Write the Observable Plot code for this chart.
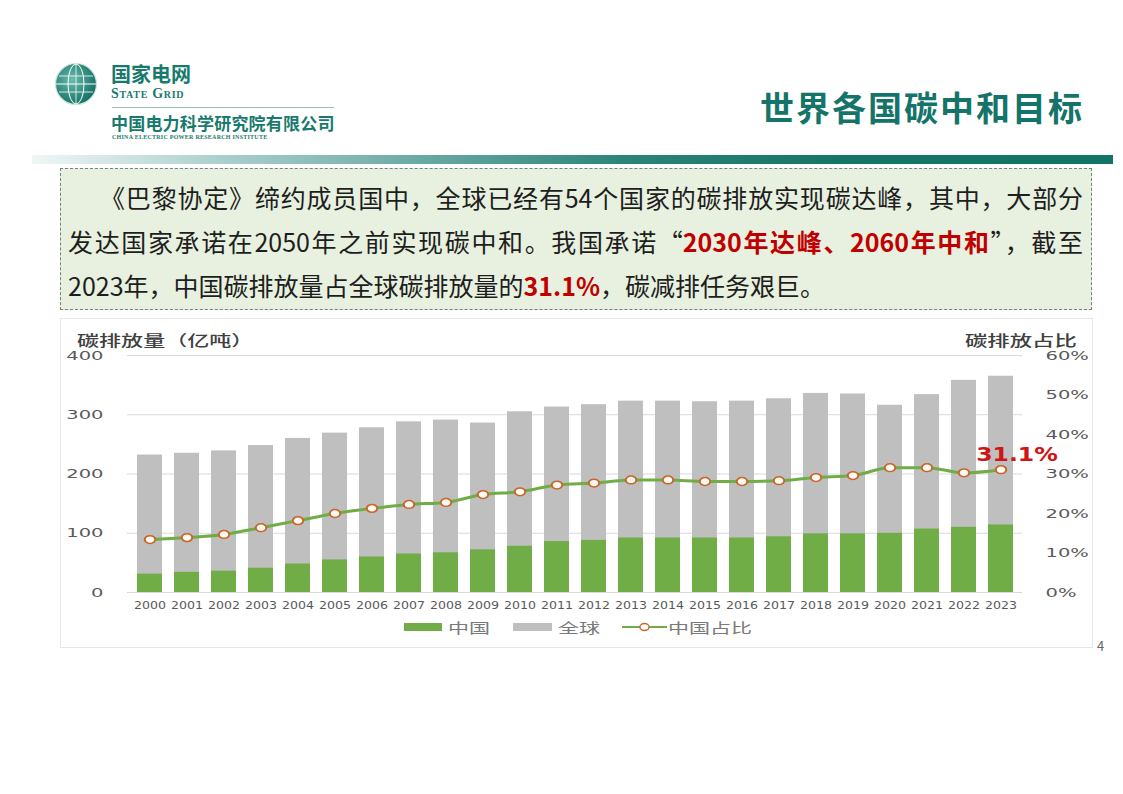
<!DOCTYPE html>
<html><head><meta charset="utf-8">
<script src="https://cdn.jsdelivr.net/npm/d3@7"></script>
<script src="https://cdn.jsdelivr.net/npm/@observablehq/plot@0.6"></script>
<style>
html,body{margin:0;padding:0;background:#fff;}
#page{position:relative;width:1123px;height:794px;overflow:hidden;font-family:"Noto Sans CJK SC","Noto Sans",sans-serif;}
.abs{position:absolute;white-space:nowrap;}
.sx{display:inline-block;transform-origin:0 50%;}
#band{position:absolute;left:32px;top:155px;width:1081px;height:9px;background:linear-gradient(to right,#f0f6f6 0%,#a9cfcb 18%,#6aa9a3 36%,#2a8479 55%,#157568 75%,#127367 100%);}
#textbox{position:absolute;left:60px;top:168px;width:1032px;height:142px;box-sizing:border-box;border:1.5px dashed #6e847c;background:#e8f1df;padding:6px 8px 0 7px;font-size:25px;color:#1e1e1e;}
#textbox .ln{height:44px;line-height:44px;white-space:nowrap;}
#textbox .j{text-align:justify;text-align-last:justify;}
#textbox .r{color:#c00000;font-weight:bold;}
#chartbox{position:absolute;left:60px;top:318px;width:1033px;height:330px;box-sizing:border-box;border:1px solid #e6e6e6;}
#plot{position:absolute;left:60px;top:318px;}
.axt{font-size:15px;line-height:15px;color:#404040;font-weight:500;}
.lgt{font-size:14px;line-height:14px;color:#7a7a7a;}
</style></head>
<body><div id="page">
  <svg class="abs" style="left:54px;top:62px" width="44" height="44" viewBox="0 0 44 44">
    <defs><radialGradient id="g1" cx="40%" cy="40%" r="65%"><stop offset="0%" stop-color="#6cbcae"/><stop offset="100%" stop-color="#0f6e62"/></radialGradient></defs>
    <circle cx="22" cy="22" r="20.5" fill="url(#g1)"/>
    <circle cx="22" cy="22" r="20.5" fill="none" stroke="#cfe3df" stroke-width="1.2"/>
    <ellipse cx="22" cy="22" rx="8" ry="20" fill="none" stroke="#fff" stroke-width="1"/>
    <line x1="2" y1="22" x2="42" y2="22" stroke="#fff" stroke-width="1"/>
    <line x1="5" y1="14" x2="39" y2="14" stroke="#fff" stroke-width="0.8"/>
    <line x1="5" y1="30" x2="39" y2="30" stroke="#fff" stroke-width="0.8"/>
    <line x1="22" y1="2" x2="22" y2="42" stroke="#fff" stroke-width="0.8"/>
  </svg>
  <div class="abs" style="left:111px;top:65px;font-size:20px;font-weight:bold;color:#177a6d;line-height:18px;">国家电网</div>
  <div class="abs" style="left:111px;top:88px;font-family:'Liberation Serif',serif;font-weight:bold;font-size:14px;line-height:11px;color:#177a6d;font-variant:small-caps;letter-spacing:0.7px;">State Grid</div>
  <div class="abs" style="left:112px;top:107px;width:222px;height:1px;background:#9fbdb6;"></div>
  <div class="abs" style="left:111px;top:114px;font-size:17px;font-weight:bold;color:#177a6d;line-height:17px;letter-spacing:0.2px;">中国电力科学研究院有限公司</div>
  <div class="abs" style="left:112px;top:134px;font-family:'Liberation Serif',serif;font-size:6px;line-height:6px;font-weight:bold;color:#177a6d;letter-spacing:0.25px;">CHINA ELECTRIC POWER RESEARCH INSTITUTE</div>
  <div class="abs" style="left:760px;top:87px;font-size:34px;font-weight:bold;color:#157469;line-height:40px;letter-spacing:2px;">世界各国碳中和目标</div>
  <div id="band"></div>
  <div id="textbox">
    <div class="ln j" style="padding-left:32px;">《巴黎协定》缔约成员国中，全球已经有54个国家的碳排放实现碳达峰，其中，大部分</div>
    <div class="ln j">发达国家承诺在2050年之前实现碳中和。我国承诺“<span class="r">2030年达峰、2060年中和</span>”，截至</div>
    <div class="ln">2023年，中国碳排放量占全球碳排放量的<span class="r">31.1%</span>，碳减排任务艰巨。</div>
  </div>
  <div id="chartbox"></div>
  <div id="plot"></div>
  <div class="abs axt" style="left:77px;top:332px;"><span class="sx" style="transform:scaleX(1.47)">碳排放量（亿吨）</span></div>
  <div class="abs axt" style="left:965px;top:332px;"><span class="sx" style="transform:scaleX(1.49)">碳排放占比</span></div>
  <div id="legend"></div>
  <div class="abs" style="left:1097px;top:636px;font-size:13px;color:#666;">4</div>
</div>
<script>
const years = ["2000","2001","2002","2003","2004","2005","2006","2007","2008","2009","2010","2011","2012","2013","2014","2015","2016","2017","2018","2019","2020","2021","2022","2023"];
const globalEmissions = [232,235,239,248,260,269,278,288,291,286,305,313,317,323,323,322,323,327,336,335,316,334,358,365];
const chinaEmissions = [31,34,36,41,48,55,60,65,67,72,78,86,88,92,92,92,92,94,99,99,100,107,110,114];
const chinaShare = [13.4,13.9,14.7,16.4,18.2,20.0,21.3,22.3,22.8,24.8,25.5,27.2,27.7,28.5,28.5,28.1,28.1,28.3,29.1,29.6,31.6,31.6,30.3,31.1];
const leftTicks = [0,100,200,300,400];
const rightTicks = [0,10,20,30,40,50,60];
const seriesNames = ["中国","全球","中国占比"];
const shareLabel = "31.1%";

const leftMax = 400, rightMax = 60;
const toLeft = p => p * leftMax / rightMax;
const rows = years.map((y,i)=>({year:y, global:globalEmissions[i], china:chinaEmissions[i], share:chinaShare[i], shareY:toLeft(chinaShare[i])}));
const green = "#70ad47", gray = "#bfbfbf", markerStroke = "#c8662a";

const chart = Plot.plot({
  width: 1033, height: 330,
  marginLeft: 67, marginRight: 71, marginTop: 37, marginBottom: 56,
  style: {fontFamily: "'DejaVu Sans', sans-serif", background: "transparent", overflow: "visible"},
  x: {type: "band", domain: years, paddingInner: 0.33, paddingOuter: 0.165},
  y: {domain: [0, leftMax]},
  marks: [
    Plot.gridY(leftTicks, {stroke: "#d9d9d9", strokeOpacity: 1, strokeWidth: 1.2}),
    Plot.barY(rows, {x: "year", y: "global", fill: gray}),
    Plot.barY(rows, {x: "year", y: "china", fill: green}),
    Plot.line(rows, {x: "year", y: "shareY", stroke: green, strokeWidth: 3, curve: "monotone-x"}),
    Plot.dot(rows, {x: "year", y: "shareY", r: 3.9, fill: "#fffaf3", stroke: markerStroke, strokeWidth: 1.5}),
    Plot.text(rows.filter(d => d.year === years[years.length-1]), {x: "year", y: "shareY", text: () => shareLabel, dx: 16, dy: -15, fill: "#d01515", fontWeight: "bold", fontSize: 19, fontFamily: "'DejaVu Sans', sans-serif"}),
    Plot.axisX({tickSize: 0, tickPadding: 9, fontSize: 10.5, fill: "#595959", label: null}),
    Plot.axisY({anchor: "left", ticks: leftTicks, tickSize: 0, tickPadding: 24, fontSize: 13, fill: "#595959", label: null}),
    Plot.axisY({anchor: "right", ticks: rightTicks.map(toLeft), tickFormat: v => Math.round(v * rightMax / leftMax) + "%", tickSize: 0, tickPadding: 23, fontSize: 13, fill: "#595959", label: null})
  ]
});
document.getElementById("plot").appendChild(chart);

// horizontal stretch of texts/markers, like the reference picture
function stretchX(el, s, xAttr) {
  const x = +el.getAttribute(xAttr) || 0;
  const tr = el.getAttribute("transform") || "";
  el.setAttribute("transform", `${tr} translate(${x},0) scale(${s},1) translate(${-x},0)`);
}
chart.querySelectorAll('[aria-label="y-axis tick label"] text').forEach(t => stretchX(t, 1.5, "x"));
chart.querySelectorAll('[aria-label="x-axis tick label"] text').forEach(t => stretchX(t, 1.2, "x"));
chart.querySelectorAll('g[aria-label="text"] text').forEach(t => stretchX(t, 1.24, "x"));
chart.querySelectorAll('g[aria-label="dot"] circle').forEach(c => stretchX(c, 1.35, "cx"));

// legend
const lg = document.getElementById("legend");
const lgLayout = [
  {sw: `<div class="abs" style="left:404px;top:623px;width:38px;height:8px;background:${green}"></div>`, tx: 448},
  {sw: `<div class="abs" style="left:513px;top:623px;width:39px;height:8px;background:${gray}"></div>`, tx: 558},
  {sw: `<svg class="abs" style="left:622px;top:621px" width="45" height="12"><line x1="0" y1="6" x2="45" y2="6" stroke="${green}" stroke-width="2.2"/><ellipse cx="22.5" cy="6" rx="4.6" ry="3.5" fill="#fff" stroke="${markerStroke}" stroke-width="1.4"/></svg>`, tx: 668}
];
seriesNames.forEach((n,i)=>{
  lg.insertAdjacentHTML("beforeend", lgLayout[i].sw +
    `<div class="abs lgt" style="left:${lgLayout[i].tx}px;top:620px;"><span class="sx" style="transform:scaleX(1.5)">${n}</span></div>`);
});
</script>
</body></html>
